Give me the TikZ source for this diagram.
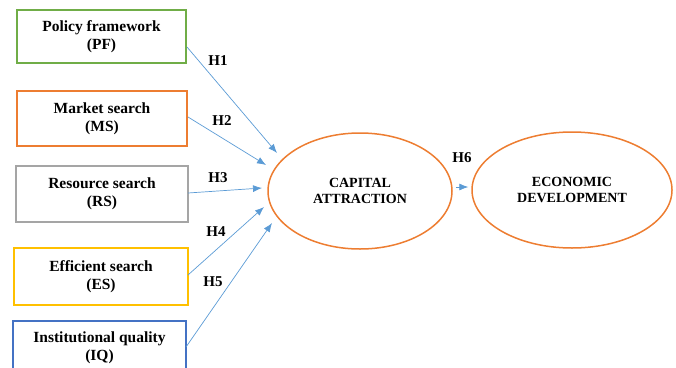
\documentclass[tikz,border=0pt]{standalone}
\usepackage{fontspec}
\setmainfont{Liberation Serif}
\usetikzlibrary{shapes.geometric,arrows.meta}
\definecolor{cgreen}{HTML}{70AD47}
\definecolor{corange}{HTML}{ED7D31}
\definecolor{cgray}{HTML}{A5A5A5}
\definecolor{cgold}{HTML}{FFC000}
\definecolor{cblue}{HTML}{4472C4}
\definecolor{carrow}{HTML}{5B9BD5}
\tikzset{
  box/.style={draw, line width=1.3pt, rectangle, align=center, inner sep=0pt,
    font=\bfseries\fontsize{15.5}{18}\selectfont},
  oval/.style={draw=corange, line width=1.5pt, ellipse, align=center, inner sep=0pt,
    font=\bfseries\fontsize{14}{16.5}\selectfont},
  conn/.style={draw=carrow, line width=0.7pt, -{Latex[length=9pt,width=7pt]}},
  hlab/.style={font=\bfseries\fontsize{15}{15}\selectfont, inner sep=0pt}
}
\begin{document}
\begin{tikzpicture}[x=1pt,y=-1pt]
\useasboundingbox (0,0) rectangle (676,367);
\clip (0,0) rectangle (676,367);
\node[box, draw=cgreen, minimum width=169pt, minimum height=53pt] (pf) at (101.5,36.5) {Policy framework\\(PF)};
\node[box, draw=corange, minimum width=170pt, minimum height=55pt] (ms) at (102,118.5) {Market search\\(MS)};
\node[box, draw=cgray, minimum width=172pt, minimum height=56pt] (rs) at (102,194) {Resource search\\(RS)};
\node[box, draw=cgold, minimum width=174pt, minimum height=57pt] (es) at (101,276.5) {Efficient search\\(ES)};
\node[box, draw=cblue, minimum width=173pt, minimum height=54pt] (iq) at (99.5,348) {Institutional quality\\(IQ)};
\node[oval, minimum width=184pt, minimum height=116pt] (ca) at (360,191) {CAPITAL\\ATTRACTION};
\node[oval, minimum width=200pt, minimum height=116pt] (ed) at (572,190) {ECONOMIC\\DEVELOPMENT};
\coordinate (s1) at (187,47);
\coordinate (s2) at (188,117);
\coordinate (s3) at (188,193);
\coordinate (s4) at (188,275);
\coordinate (s5) at (186,347);
\coordinate (t1) at (277,153);
\coordinate (t2) at (266,165);
\coordinate (t3) at (262,188);
\coordinate (t4) at (264,207);
\coordinate (t5) at (272,223);
\draw[conn] (s1) -- (t1);
\draw[conn] (s2) -- (t2);
\draw[conn] (s3) -- (t3);
\draw[conn] (s4) -- (t4);
\draw[conn] (s5) -- (t5);
\draw[conn, shorten <=3pt, shorten >=3pt] (ca.east |- 0,187) -- (ed.west |- 0,187);
\node[hlab] (h1) at (218,61) {H1};
\node[hlab] (h2) at (222,121) {H2};
\node[hlab] (h3) at (218,178) {H3};
\node[hlab] (h4) at (216,232) {H4};
\node[hlab] (h5) at (213,282) {H5};
\node[hlab] (h6) at (462,158) {H6};
\end{tikzpicture}
\end{document}
